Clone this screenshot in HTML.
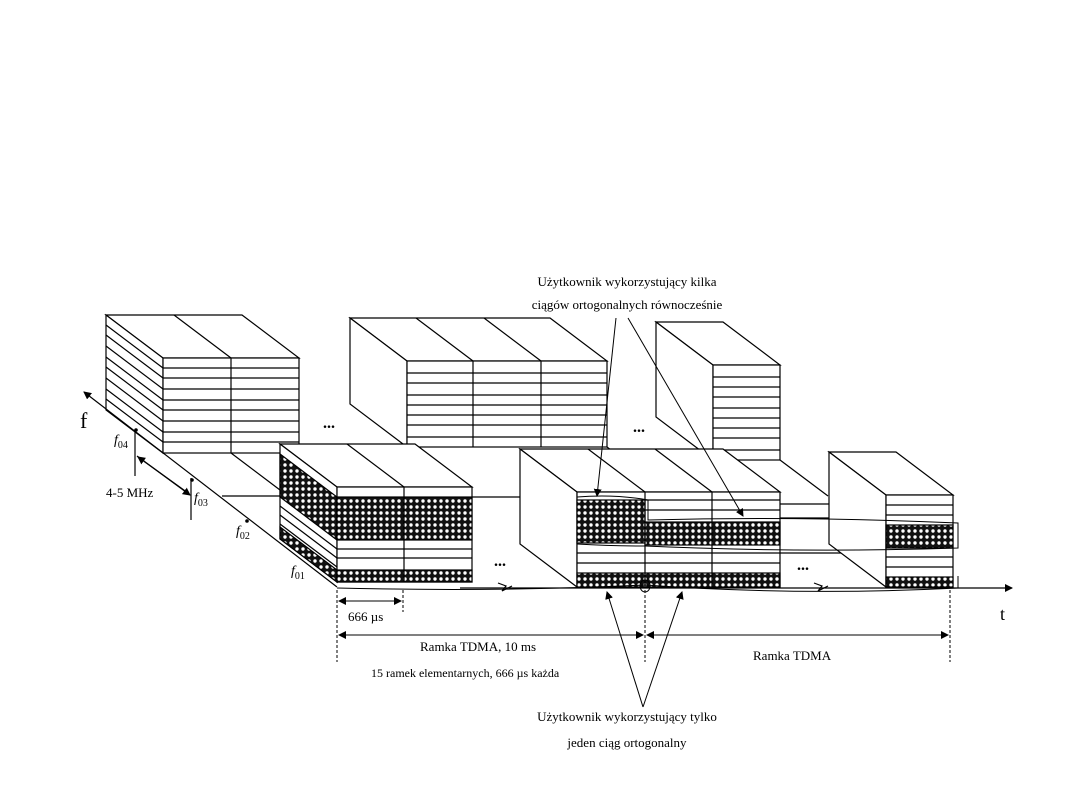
<!DOCTYPE html>
<html><head><meta charset="utf-8"><style>
html,body{margin:0;padding:0;background:#fff;}
svg{display:block;}
text{font-family:"Liberation Serif",serif;fill:#000;}
</style></head><body>
<svg width="1080" height="810" viewBox="0 0 1080 810" xmlns="http://www.w3.org/2000/svg">
<defs>
<pattern id="h" width="6" height="6" patternUnits="userSpaceOnUse">
<rect width="6" height="6" fill="#111"/>
<circle cx="3" cy="3" r="1.7" fill="#fff"/>
</pattern>
<marker id="ar" markerWidth="8" markerHeight="8" refX="7" refY="4" orient="auto" markerUnits="userSpaceOnUse">
<path d="M0,0 L8,4 L0,8 z" fill="#000"/>
</marker>
</defs>
<g stroke="#000" stroke-width="1.2" fill="#fff">

<!-- Box A (back left) -->
<polygon points="163,358 299,358 242,315 106,315"/>
<polygon points="163,358 163,453 106,410 106,315"/>
<rect x="163" y="358" width="136" height="95"/>
<line x1="231" y1="358" x2="174" y2="315"/>
<line x1="231" y1="358" x2="231" y2="453"/>
<g>
<line x1="163" y1="368" x2="299" y2="368"/><line x1="163" y1="378" x2="299" y2="378"/>
<line x1="163" y1="389" x2="299" y2="389"/><line x1="163" y1="400" x2="299" y2="400"/>
<line x1="163" y1="410" x2="299" y2="410"/><line x1="163" y1="421" x2="299" y2="421"/>
<line x1="163" y1="432" x2="299" y2="432"/><line x1="163" y1="442" x2="299" y2="442"/>
<line x1="163" y1="368" x2="106" y2="325"/><line x1="163" y1="378" x2="106" y2="335"/>
<line x1="163" y1="389" x2="106" y2="346"/><line x1="163" y1="400" x2="106" y2="357"/>
<line x1="163" y1="410" x2="106" y2="367"/><line x1="163" y1="421" x2="106" y2="378"/>
<line x1="163" y1="432" x2="106" y2="389"/><line x1="163" y1="442" x2="106" y2="399"/>
</g>

<!-- Box B (back middle) -->
<polygon points="407,361 607,361 550,318 350,318"/>
<polygon points="407,361 407,447 350,404 350,318"/>
<rect x="407" y="361" width="200" height="86"/>
<line x1="473" y1="361" x2="416" y2="318"/><line x1="541" y1="361" x2="484" y2="318"/>
<line x1="473" y1="361" x2="473" y2="447"/><line x1="541" y1="361" x2="541" y2="447"/>
<line x1="407" y1="373" x2="607" y2="373"/><line x1="407" y1="383" x2="607" y2="383"/>
<line x1="407" y1="395" x2="607" y2="395"/><line x1="407" y1="405" x2="607" y2="405"/>
<line x1="407" y1="415" x2="607" y2="415"/><line x1="407" y1="425" x2="607" y2="425"/>
<line x1="407" y1="437" x2="607" y2="437"/>

<!-- Box D (back right) -->
<polygon points="713,365 780,365 723,322 656,322"/>
<polygon points="713,365 713,460 656,417 656,322"/>
<rect x="713" y="365" width="67" height="95"/>
<line x1="713" y1="377" x2="780" y2="377"/><line x1="713" y1="387" x2="780" y2="387"/>
<line x1="713" y1="397" x2="780" y2="397"/><line x1="713" y1="408" x2="780" y2="408"/>
<line x1="713" y1="418" x2="780" y2="418"/><line x1="713" y1="428" x2="780" y2="428"/>
<line x1="713" y1="438" x2="780" y2="438"/><line x1="713" y1="450" x2="780" y2="450"/>

<!-- floor lines -->
<line x1="231" y1="453" x2="280" y2="490"/>
<line x1="299" y1="453" x2="337" y2="482"/>
<line x1="222" y1="496" x2="280" y2="496"/>
<line x1="472" y1="497" x2="577" y2="497"/>
<line x1="780" y1="504" x2="886" y2="504"/>
<line x1="780" y1="553" x2="886" y2="553"/>
<line x1="713" y1="518" x2="953" y2="518"/>
<line x1="780" y1="460" x2="828" y2="496"/>
<line x1="607" y1="447" x2="645" y2="476"/>

<!-- Box E (front left, hatched) -->
<polygon points="337,487 472,487 415,444 280,444"/>
<polygon points="337,487 337,582 280,539 280,444"/>
<line x1="404" y1="487" x2="347" y2="444"/>
<polygon points="337,497 337,540 280,497 280,454" fill="url(#h)"/>
<polygon points="337,570 337,582 280,539 280,527" fill="url(#h)"/>
<line x1="337" y1="549" x2="280" y2="506"/><line x1="337" y1="558" x2="280" y2="515"/>
<line x1="337" y1="567" x2="280" y2="524"/>
<rect x="337" y="487" width="135" height="95"/>
<rect x="337" y="497" width="135" height="43" fill="url(#h)"/>
<rect x="337" y="570" width="135" height="12" fill="url(#h)"/>
<line x1="337" y1="549" x2="472" y2="549"/><line x1="337" y1="558" x2="472" y2="558"/>
<line x1="404" y1="487" x2="404" y2="582"/>

<!-- Box F (front middle) -->
<polygon points="577,492 780,492 723,449 520,449"/>
<polygon points="577,492 577,587 520,544 520,449"/>
<line x1="645" y1="492" x2="588" y2="449"/><line x1="712" y1="492" x2="655" y2="449"/>
<rect x="577" y="492" width="203" height="95"/>
<rect x="577" y="500" width="68" height="43" fill="url(#h)"/>
<rect x="645" y="522" width="135" height="23" fill="url(#h)"/>
<rect x="577" y="573" width="203" height="14" fill="url(#h)"/>
<line x1="645" y1="500" x2="780" y2="500"/><line x1="645" y1="510" x2="780" y2="510"/>
<line x1="577" y1="553" x2="780" y2="553"/><line x1="577" y1="563" x2="780" y2="563"/>
<line x1="645" y1="492" x2="645" y2="587"/><line x1="712" y1="492" x2="712" y2="587"/>

<!-- Box G (front right) -->
<polygon points="886,495 953,495 896,452 829,452"/>
<polygon points="886,495 886,587 829,544 829,452"/>
<rect x="886" y="495" width="67" height="92"/>
<line x1="886" y1="505" x2="953" y2="505"/><line x1="886" y1="515" x2="953" y2="515"/>
<rect x="886" y="525" width="67" height="23" fill="url(#h)"/>
<line x1="886" y1="557" x2="953" y2="557"/><line x1="886" y1="567" x2="953" y2="567"/>
<rect x="886" y="577" width="67" height="10" fill="url(#h)"/>
</g>

<!-- user outlines -->
<g fill="none" stroke="#000" stroke-width="1">
<path d="M577,497 Q615,494 648,500 L648,520 Q800,516 958,523 L958,548 Q800,553 645,546 L645,546 Q610,546 577,544"/>
<path d="M337,588 Q500,592 645,585 Q800,596 958,588 L958,576"/>
<path d="M645,580 a5,6 0 1 0 0.1,0"/>
</g>

<!-- axes -->
<g stroke="#000" stroke-width="1.2" fill="none">
<line x1="337" y1="587" x2="84" y2="392" marker-end="url(#ar)"/>
<line x1="460" y1="588" x2="1012" y2="588" marker-end="url(#ar)"/>
<path d="M498,583 L506,586 L502,591 L512,586" />
<path d="M814,583 L822,586 L818,591 L828,586" />
<line x1="135" y1="430" x2="135" y2="476"/>
<line x1="191" y1="478" x2="191" y2="520"/>
<line x1="137" y1="456" x2="190" y2="495" marker-end="url(#ar)"/>
<line x1="188" y1="493" x2="138" y2="457" marker-end="url(#ar)"/>
</g>
<g fill="#000">
<circle cx="136" cy="430" r="1.8"/><circle cx="192" cy="480" r="1.8"/><circle cx="247" cy="521" r="1.8"/>
</g>

<!-- dimensions -->
<g stroke="#000" stroke-width="1" stroke-dasharray="3,2">
<line x1="337" y1="590" x2="337" y2="662"/>
<line x1="403" y1="590" x2="403" y2="612"/>
<line x1="645" y1="590" x2="645" y2="662"/>
<line x1="950" y1="590" x2="950" y2="662"/>
</g>
<g stroke="#000" stroke-width="1" fill="none">
<line x1="345" y1="601" x2="401" y2="601" marker-end="url(#ar)"/>
<line x1="395" y1="601" x2="339" y2="601" marker-end="url(#ar)"/>
<line x1="345" y1="635" x2="643" y2="635" marker-end="url(#ar)"/>
<line x1="635" y1="635" x2="339" y2="635" marker-end="url(#ar)"/>
<line x1="655" y1="635" x2="948" y2="635" marker-end="url(#ar)"/>
<line x1="940" y1="635" x2="647" y2="635" marker-end="url(#ar)"/>
<!-- pointers -->
<line x1="616" y1="318" x2="597" y2="496" marker-end="url(#ar)"/>
<line x1="628" y1="318" x2="743" y2="516" marker-end="url(#ar)"/>
<line x1="643" y1="707" x2="607" y2="592" marker-end="url(#ar)"/>
<line x1="643" y1="707" x2="682" y2="592" marker-end="url(#ar)"/>
</g>

<!-- dots -->
<g font-size="16" font-weight="bold">
<text x="323" y="428">...</text>
<text x="633" y="432">...</text>
<text x="494" y="566">...</text>
<text x="797" y="570">...</text>
</g>

<!-- labels -->
<text x="80" y="428" font-size="22">f</text>
<text x="114" y="444" font-size="14" font-style="italic">f<tspan font-size="10" font-style="normal" dy="4">04</tspan></text>
<text x="106" y="497" font-size="13">4-5 MHz</text>
<text x="194" y="502" font-size="14" font-style="italic">f<tspan font-size="10" font-style="normal" dy="4">03</tspan></text>
<text x="236" y="535" font-size="14" font-style="italic">f<tspan font-size="10" font-style="normal" dy="4">02</tspan></text>
<text x="291" y="575" font-size="14" font-style="italic">f<tspan font-size="10" font-style="normal" dy="4">01</tspan></text>
<text x="1000" y="620" font-size="18">t</text>
<text x="348" y="621" font-size="13">666 µs</text>
<text x="420" y="651" font-size="13">Ramka TDMA,  10 ms</text>
<text x="371" y="677" font-size="12">15 ramek elementarnych, 666  µs każda</text>
<text x="753" y="660" font-size="13">Ramka TDMA</text>
<text x="627" y="286" font-size="13" text-anchor="middle">Użytkownik wykorzystujący kilka</text>
<text x="627" y="309" font-size="13" text-anchor="middle">ciągów ortogonalnych równocześnie</text>
<text x="627" y="721" font-size="13" text-anchor="middle">Użytkownik wykorzystujący tylko</text>
<text x="627" y="747" font-size="13" text-anchor="middle">jeden ciąg  ortogonalny</text>
</svg>
</body></html>
